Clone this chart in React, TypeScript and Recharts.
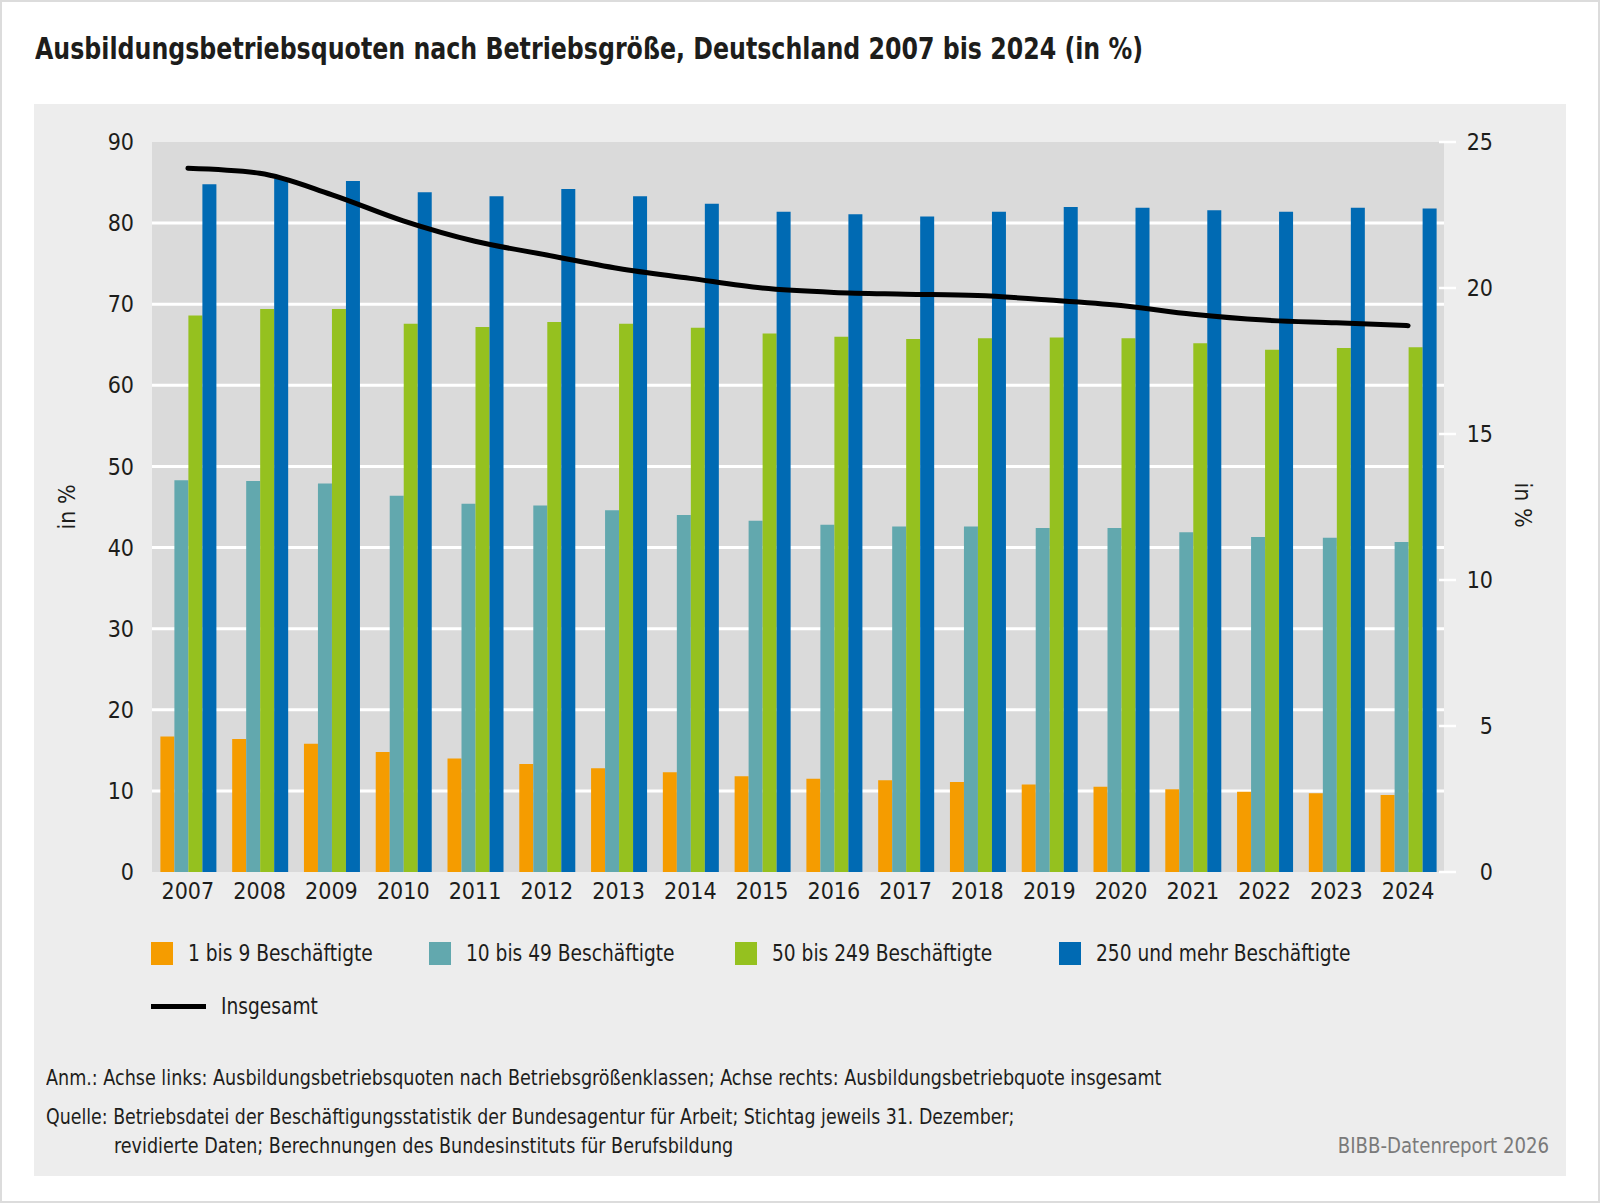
import React from 'react';
import { ComposedChart, Bar, Line, XAxis, YAxis, CartesianGrid } from 'recharts';

const years = ['2007', '2008', '2009', '2010', '2011', '2012', '2013', '2014', '2015', '2016', '2017', '2018', '2019', '2020', '2021', '2022', '2023', '2024'];

const small = [16.7, 16.4, 15.8, 14.8, 14.0, 13.3, 12.8, 12.3, 11.8, 11.5, 11.3, 11.1, 10.8, 10.5, 10.2, 9.9, 9.7, 9.5];
const medium = [48.3, 48.2, 47.9, 46.4, 45.4, 45.2, 44.6, 44.0, 43.3, 42.8, 42.6, 42.6, 42.4, 42.4, 41.9, 41.3, 41.2, 40.7];
const large = [68.6, 69.4, 69.4, 67.6, 67.2, 67.8, 67.6, 67.1, 66.4, 66.0, 65.7, 65.8, 65.9, 65.8, 65.2, 64.4, 64.6, 64.7];
const xlarge = [84.8, 85.5, 85.2, 83.8, 83.3, 84.2, 83.3, 82.4, 81.4, 81.1, 80.8, 81.4, 82.0, 81.9, 81.6, 81.4, 81.9, 81.8];
const total = [24.1, 23.93, 23.2, 22.3, 21.6, 21.13, 20.67, 20.33, 20.0, 19.85, 19.79, 19.74, 19.59, 19.4, 19.1, 18.9, 18.81, 18.71];

const leftTicks = [0, 10, 20, 30, 40, 50, 60, 70, 80, 90];
const rightTicks = [0, 5, 10, 15, 20, 25];
const gridValues = [10, 20, 30, 40, 50, 60, 70, 80];

const barSeries = [
  { key: 'small', name: '1 bis 9 Beschäftigte', color: '#F59C00' },
  { key: 'medium', name: '10 bis 49 Beschäftigte', color: '#62A8AE' },
  { key: 'large', name: '50 bis 249 Beschäftigte', color: '#95C11F' },
  { key: 'xlarge', name: '250 und mehr Beschäftigte', color: '#006AB3' },
];

const data = years.map((year, i) => ({
  year,
  small: small[i],
  medium: medium[i],
  large: large[i],
  xlarge: xlarge[i],
  total: total[i],
}));

const FONT = '"Liberation Sans Narrow", "DejaVu Sans Condensed", "Open Sans", sans-serif';
const TEXT = '#1d1d1b';

const RightTick = (props: any) => {
  const { x, y, payload } = props;
  return (
    <g>
      <line x1={x - 7} x2={x + 10} y1={y} y2={y} stroke="#fff" strokeWidth={2.5} />
      <text x={x + 47} y={y} dy="0.355em" textAnchor="end" fontSize={23} fill={TEXT} fontFamily={FONT}>
        {payload.value}
      </text>
    </g>
  );
};

const legendPos = [151, 429, 735, 1059];

// narrow the fallback font so text runs as long as in the original
const squeeze = (s: number, origin = 'left') => ({ transform: `scaleX(${s})`, transformOrigin: origin });

const App = () => {
  return (
    <div style={{ position: 'absolute', left: 0, top: 0, width: 1600, height: 1203, background: '#fff', fontFamily: FONT, color: TEXT, overflow: 'hidden' }}>
      <div style={{ position: 'absolute', left: 0, top: 0, width: 1596, height: 1199, border: '2px solid #dcdcdc' }} />
      <div style={{ position: 'absolute', left: 35, top: 30, fontSize: 31, fontWeight: 'bold', whiteSpace: 'nowrap', ...squeeze(0.85) }}>
        Ausbildungsbetriebsquoten nach Betriebsgröße, Deutschland 2007 bis 2024 (in %)
      </div>
      <div style={{ position: 'absolute', left: 34, top: 104, width: 1532, height: 1072, background: '#EDEDED' }} />

      <div style={{ position: 'absolute', left: 0, top: 0 }}>
        <ComposedChart
          width={1600}
          height={1203}
          data={data}
          margin={{ top: 142, right: 56, bottom: 301, left: 0 }}
          barCategoryGap="11.7%"
          barGap={0}
        >
          <CartesianGrid
            yAxisId="left"
            vertical={false}
            horizontalValues={gridValues}
            stroke="#fff"
            strokeWidth={3}
            fill="#DADADA"
          />
          <XAxis
            dataKey="year"
            axisLine={false}
            tickLine={false}
            tickSize={0}
            tickMargin={11}
            height={30}
            interval={0}
            tick={{ fontSize: 23, fill: TEXT, fontFamily: FONT }}
          />
          <YAxis
            yAxisId="left"
            domain={[0, 90]}
            ticks={leftTicks}
            axisLine={false}
            tickLine={false}
            tickSize={0}
            tickMargin={18}
            width={152}
            tick={{ fontSize: 23, fill: TEXT, fontFamily: FONT }}
          />
          <YAxis
            yAxisId="right"
            orientation="right"
            domain={[0, 25]}
            ticks={rightTicks}
            axisLine={false}
            tickLine={false}
            tickSize={0}
            width={100}
            tick={<RightTick />}
          />
          {barSeries.map((s) => (
            <Bar key={s.key} yAxisId="left" dataKey={s.key} name={s.name} fill={s.color} isAnimationActive={false} />
          ))}
          <Line
            yAxisId="right"
            type="monotone"
            dataKey="total"
            name="Insgesamt"
            stroke="#000"
            strokeWidth={5}
            strokeLinecap="round"
            dot={false}
            activeDot={false}
            isAnimationActive={false}
          />
        </ComposedChart>
      </div>

      <div style={{ position: 'absolute', left: 67, top: 507, transform: 'translate(-50%, -50%) rotate(-90deg)', fontSize: 23, whiteSpace: 'nowrap' }}>in %</div>
      <div style={{ position: 'absolute', left: 1523, top: 505, transform: 'translate(-50%, -50%) rotate(90deg)', fontSize: 23, whiteSpace: 'nowrap' }}>in %</div>

      {barSeries.map((s, i) => (
        <div key={s.key} style={{ position: 'absolute', left: legendPos[i], top: 939, height: 28, display: 'flex', alignItems: 'center', whiteSpace: 'nowrap', fontSize: 23 }}>
          <span style={{ display: 'inline-block', width: 22, height: 23, background: s.color, marginRight: 15 }} />
          <span style={squeeze(0.9)}>{s.name}</span>
        </div>
      ))}
      <div style={{ position: 'absolute', left: 151, top: 992, height: 28, display: 'flex', alignItems: 'center', whiteSpace: 'nowrap', fontSize: 23 }}>
        <span style={{ display: 'inline-block', width: 55, height: 5, background: '#000', marginRight: 15 }} />
        <span style={squeeze(0.9)}>Insgesamt</span>
      </div>

      <div style={{ position: 'absolute', left: 46, top: 1066, fontSize: 21, whiteSpace: 'nowrap', ...squeeze(0.93) }}>
        Anm.: Achse links: Ausbildungsbetriebsquoten nach Betriebsgrößenklassen; Achse rechts: Ausbildungsbetriebquote insgesamt
      </div>
      <div style={{ position: 'absolute', left: 46, top: 1105, fontSize: 21, whiteSpace: 'nowrap', ...squeeze(0.92) }}>
        Quelle: Betriebsdatei der Beschäftigungsstatistik der Bundesagentur für Arbeit; Stichtag jeweils 31. Dezember;
      </div>
      <div style={{ position: 'absolute', left: 114, top: 1134, fontSize: 21, whiteSpace: 'nowrap', ...squeeze(0.93) }}>
        revidierte Daten; Berechnungen des Bundesinstituts für Berufsbildung
      </div>
      <div style={{ position: 'absolute', right: 51, top: 1134, fontSize: 21, whiteSpace: 'nowrap', color: '#7a7a7a', ...squeeze(0.96, 'right') }}>
        BIBB-Datenreport 2026
      </div>
    </div>
  );
};

export default App;
